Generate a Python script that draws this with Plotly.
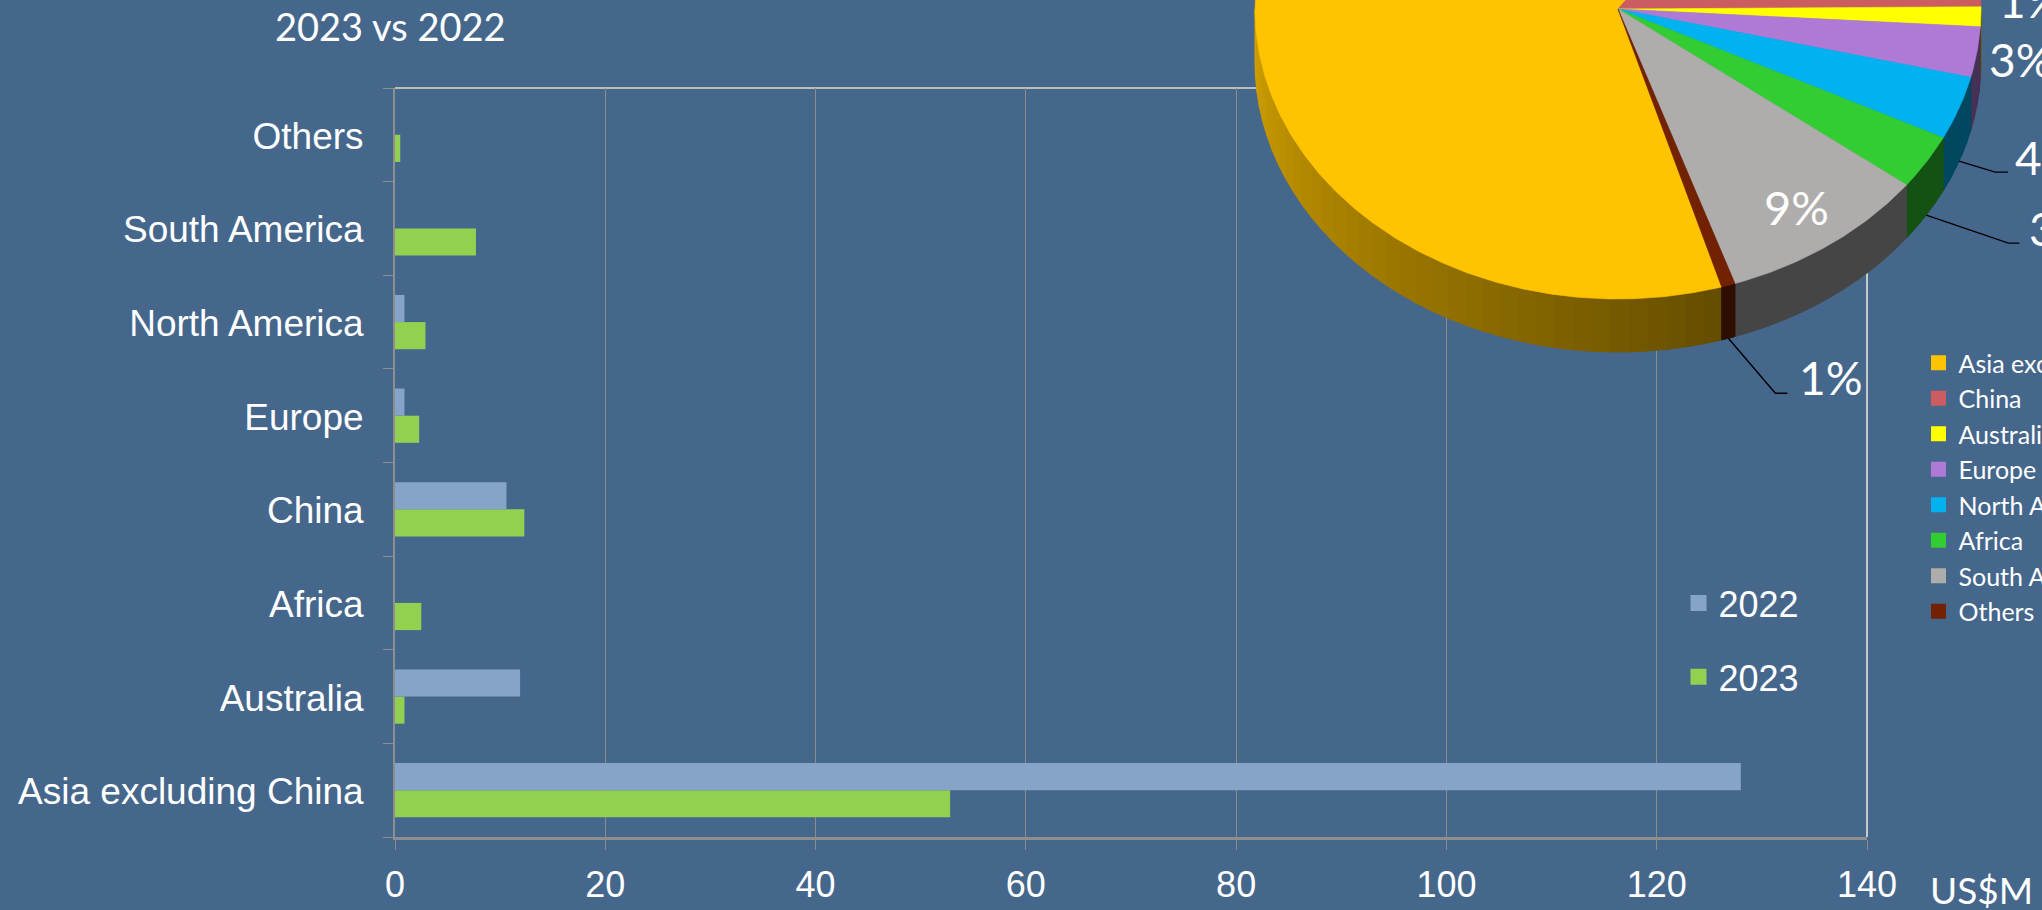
import numpy as np
import plotly.graph_objects as go

# ---------------- data ----------------
categories = ["Asia excluding China", "Australia", "Africa", "China",
              "Europe", "North America", "South America", "Others"]
values_2022 = [128.0, 11.9, 0.0, 10.6, 0.9, 0.9, 0.0, 0.0]
values_2023 = [52.8, 0.9, 2.5, 12.3, 2.3, 2.9, 7.7, 0.5]
series_names = ["2022", "2023"]
x_tick_values = [0, 20, 40, 60, 80, 100, 120, 140]

pie_order = ["Asia excluding China", "China", "Australia", "Europe",
             "North America", "Africa", "South America", "Others"]
pie_values = [values_2023[categories.index(c)] for c in pie_order]

title_text = "2023 vs 2022"
unit_text = "US$M"

# ---------------- style / layout ----------------
W, H = 2042, 910
BG = "#45678C"
COL_2022 = "#85A4C8"
COL_2023 = "#92D050"
GRID = "#8C8C8C"
AXIS = "#8E8E8E"
BORDER = "#BDBDBD"
WHITE = "#FFFFFF"
ARIAL = "Liberation Sans, Arial, sans-serif"
GILL = "Lato, Open Sans, sans-serif"

pie_colors = {
    "Asia excluding China": "#FFC300",
    "China": "#CB5C5F",
    "Australia": "#FFFF00",
    "Europe": "#AE7AD6",
    "North America": "#00B2F0",
    "Africa": "#33CC33",
    "South America": "#AFACAC",
    "Others": "#722200",
}

# bar plot area (pixels)
PL, PR, PT, PB = 395, 1867, 88, 837

# pie geometry (pixels on an overlay axis)
PIE_CX, PIE_CY = 1618, 9
PIE_RX, PIE_RY = 363, 290
PIE_DEPTH = 53
PIE_START = 163.4  # degrees clockwise from 12 o'clock

# label placement relative to the leader start (rim + depth at mid angle)
label_place = {
    "Australia": dict(dx=16, dy=-69),
    "Europe": dict(dx=10, dy=-46),
    "North America": dict(dx=54, dy=-4, elbow=(36, 11), end=(49, 11)),
    "Africa": dict(dx=101, dy=13, elbow=(82, 28), end=(93, 28)),
    "Others": dict(dx=69, dy=39, elbow=(47, 55), end=(59, 55)),
    "South America": dict(inside=0.84),
}

fig = go.Figure()

# ---------------- bars ----------------
fig.add_trace(go.Bar(y=categories, x=values_2023, orientation="h", name=series_names[1],
                     marker=dict(color=COL_2023, line=dict(width=0)), showlegend=False,
                     hoverinfo="skip"))
fig.add_trace(go.Bar(y=categories, x=values_2022, orientation="h", name=series_names[0],
                     marker=dict(color=COL_2022, line=dict(width=0)), showlegend=False,
                     hoverinfo="skip"))
# legend entries (square symbols)
for name, col in zip(series_names, [COL_2022, COL_2023]):
    fig.add_trace(go.Scatter(x=[None], y=[None], mode="markers", name=name,
                             marker=dict(symbol="square", size=19, color=col),
                             legend="legend", legendgroup=name, showlegend=True))

# ---------------- 3D-look pie ----------------
RAD = np.pi / 180.0
total = float(sum(pie_values))
shares = np.array(pie_values) / total
bounds = PIE_START + 360.0 * np.concatenate([[0.0], np.cumsum(shares)])


def ell(t_deg, r=1.0, dz=0.0):
    t = np.asarray(t_deg, dtype=float) * RAD
    return PIE_CX + r * PIE_RX * np.sin(t), PIE_CY - r * PIE_RY * np.cos(t) + dz


def shade(hexcol, f):
    h = hexcol.lstrip("#")
    r, g, b = (int(h[i:i + 2], 16) for i in (0, 2, 4))
    return "rgb(%d,%d,%d)" % (round(r * f), round(g * f), round(b * f))


def side_factor(t):
    t = t % 360.0
    return 0.40 + 0.42 * min(max((t - 165.0) / 105.0, 0.0), 1.0)


# side walls
for i, name in enumerate(pie_order):
    t1, t2 = bounds[i], bounds[i + 1]
    for w0, w1 in [(90.0, 270.0), (450.0, 630.0)]:
        s, e = max(t1, w0), min(t2, w1)
        if e <= s:
            continue
        nseg = int(np.ceil((e - s) / 3.0))
        edges = np.linspace(s, e, nseg + 1)
        for a0, a1 in zip(edges[:-1], edges[1:]):
            tt = np.linspace(a0, a1, 6)
            xt, yt = ell(tt)
            xb, yb = ell(tt[::-1], dz=PIE_DEPTH)
            xs = np.concatenate([xt, xb, xt[:1]])
            ys = np.concatenate([yt, yb, yt[:1]])
            col = shade(pie_colors[name], side_factor((a0 + a1) / 2.0))
            fig.add_trace(go.Scatter(x=xs, y=ys, mode="lines", fill="toself",
                                     fillcolor=col, line=dict(color=col, width=1),
                                     hoverinfo="skip", showlegend=False,
                                     xaxis="x2", yaxis="y2"))

# top faces
for i, name in enumerate(pie_order):
    t1, t2 = bounds[i], bounds[i + 1]
    tt = np.linspace(t1, t2, max(4, int((t2 - t1) * 2)))
    xa, ya = ell(tt)
    xs = np.concatenate([[PIE_CX], xa, [PIE_CX]])
    ys = np.concatenate([[PIE_CY], ya, [PIE_CY]])
    col = pie_colors[name]
    fig.add_trace(go.Scatter(x=xs, y=ys, mode="lines", fill="toself", fillcolor=col,
                             line=dict(color=col, width=0.6), hoverinfo="skip",
                             showlegend=False, xaxis="x2", yaxis="y2"))

# pie legend entries
for name in pie_order:
    fig.add_trace(go.Scatter(x=[None], y=[None], mode="markers", name=name,
                             marker=dict(symbol="square", size=15, color=pie_colors[name]),
                             legend="legend2", legendgroup="p_" + name,
                             xaxis="x2", yaxis="y2"))

# percentage labels and leader lines
annotations = []
for i, name in enumerate(pie_order):
    if name not in label_place:
        continue
    spec = label_place[name]
    mid = (bounds[i] + bounds[i + 1]) / 2.0
    txt = "%d%%" % int(round(shares[i] * 100))
    if "inside" in spec:
        lx, ly = ell(mid, r=spec["inside"])
        annotations.append(dict(x=float(lx), y=float(ly), xref="x2", yref="y2", text=txt,
                                showarrow=False, xanchor="center", yanchor="middle",
                                font=dict(family=GILL, size=47, color=WHITE)))
        continue
    sx, sy = ell(mid, dz=PIE_DEPTH)
    sx, sy = float(sx), float(sy)
    if "elbow" in spec:
        fig.add_trace(go.Scatter(
            x=[sx, sx + spec["elbow"][0], sx + spec["end"][0]],
            y=[sy, sy + spec["elbow"][1], sy + spec["end"][1]],
            mode="lines", line=dict(color="#000000", width=1.4),
            hoverinfo="skip", showlegend=False, xaxis="x2", yaxis="y2"))
    annotations.append(dict(x=sx + spec["dx"], y=sy + spec["dy"], xref="x2", yref="y2",
                            text=txt, showarrow=False, xanchor="left", yanchor="middle",
                            font=dict(family=GILL, size=46, color=WHITE)))

# title and unit
annotations.append(dict(x=390 / W, y=1 - 26 / H, xref="paper", yref="paper", text=title_text,
                        showarrow=False, xanchor="center", yanchor="middle",
                        font=dict(family=GILL, size=38, color=WHITE)))
annotations.append(dict(x=1928 / W, y=1 - 889 / H, xref="paper", yref="paper", text=unit_text,
                        showarrow=False, xanchor="left", yanchor="middle",
                        font=dict(family=GILL, size=37, color=WHITE)))

fig.update_layout(
    width=W, height=H,
    paper_bgcolor=BG, plot_bgcolor="rgba(0,0,0,0)",
    margin=dict(l=0, r=0, t=0, b=0, pad=0, autoexpand=False),
    barmode="group", bargap=0.42, bargroupgap=0.0,
    showlegend=True,
    xaxis=dict(domain=[PL / W, PR / W], range=[0, 140], tickvals=x_tick_values,
               showgrid=True, gridcolor=GRID, gridwidth=1,
               showline=True, linecolor=AXIS, linewidth=3,
               ticks="outside", ticklen=10, tickcolor=GRID, tickwidth=1,
               tickfont=dict(family=ARIAL, size=36, color=WHITE),
               ticklabelstandoff=4, zeroline=False, anchor="y", fixedrange=True),
    yaxis=dict(domain=[1 - PB / H, 1 - PT / H], type="category",
               categoryorder="array", categoryarray=categories, range=[-0.5, 7.5],
               showgrid=False, showline=True, linecolor=AXIS, linewidth=2,
               ticks="outside", tickson="boundaries", ticklen=10, tickcolor=AXIS,
               tickwidth=1, tickfont=dict(family=ARIAL, size=37, color=WHITE),
               ticklabelstandoff=22, ticklabelshift=1,
               zeroline=False, anchor="x", fixedrange=True),
    xaxis2=dict(domain=[0, 1], range=[0, W], visible=False, anchor="y2", fixedrange=True),
    yaxis2=dict(domain=[0, 1], range=[H, 0], visible=False, anchor="x2", fixedrange=True),
    legend=dict(x=1678.5 / W, xanchor="left", y=1 - 640 / H, yanchor="middle",
                bgcolor="rgba(0,0,0,0)", borderwidth=0, traceorder="grouped",
                tracegroupgap=24, itemsizing="trace",
                font=dict(family=ARIAL, size=36, color=WHITE)),
    legend2=dict(x=1918.5 / W, xanchor="left", y=1 - 487 / H, yanchor="middle",
                 bgcolor="rgba(0,0,0,0)", borderwidth=0, traceorder="grouped",
                 tracegroupgap=0, itemsizing="trace",
                 font=dict(family=GILL, size=25, color=WHITE)),
    shapes=[
        dict(type="line", xref="x domain", yref="y domain", x0=0, x1=1, y0=1, y1=1,
             line=dict(color=BORDER, width=2), layer="below"),
        dict(type="line", xref="x domain", yref="y domain", x0=1, x1=1, y0=0, y1=1,
             line=dict(color="#C8C8C8", width=2), layer="below"),
    ],
    annotations=annotations,
)

fig.write_html(
    "out.html",
    config={"displayModeBar": False, "staticPlot": True},
    post_script=("document.documentElement.style.margin='0';"
                 "document.body.style.margin='0';document.body.style.padding='0';"
                 "document.body.style.overflow='hidden';"
                 "document.body.style.background='%s';" % BG),
)
